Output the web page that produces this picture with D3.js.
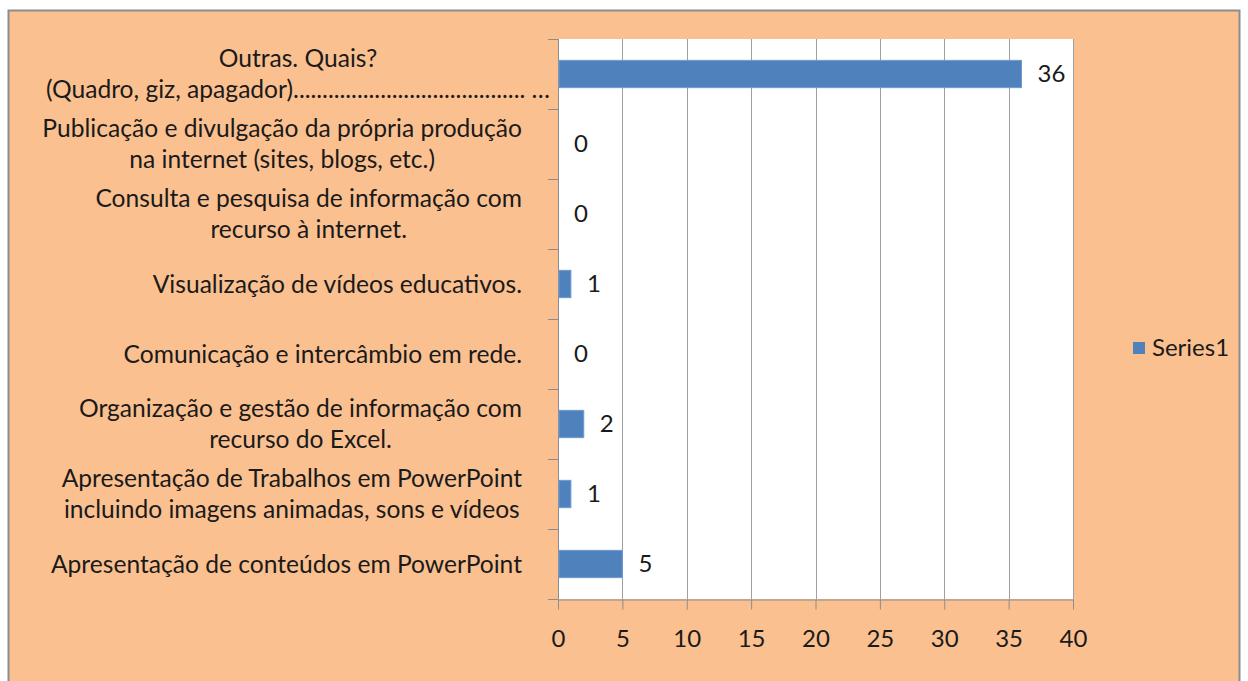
<!DOCTYPE html>
<html>
<head>
<meta charset="utf-8">
<script src="https://cdn.jsdelivr.net/npm/d3@7"></script>
<style>
  body { margin: 0; background: #fff; }
  text { font-family: Lato, "Open Sans", sans-serif; fill: #1a1a1a; }
</style>
</head>
<body>
<div id="chart"></div>
<script>
// categories, top first (as drawn in the picture)
const categories = [
  ["Outras. Quais?", "(Quadro, giz, apagador)........................................ …"],
  ["Publicação e divulgação da própria produção", "na internet (sites, blogs, etc.)"],
  ["Consulta e pesquisa de informação com", "recurso à internet."],
  ["Visualização de vídeos educativos."],
  ["Comunicação e intercâmbio em rede."],
  ["Organização e gestão de informação com", "recurso do Excel."],
  ["Apresentação de Trabalhos em PowerPoint", "incluindo imagens animadas, sons e vídeos"],
  ["Apresentação de conteúdos em PowerPoint"]
];
const series1 = [36, 0, 0, 1, 0, 2, 1, 5];
const xTicks = [0, 5, 10, 15, 20, 25, 30, 35, 40];
const seriesName = "Series1";

const width = 1248, height = 681;
const margin = { top: 39, right: 173, bottom: 82, left: 558 };
const fontSize = 24;
const labelFontSize = 24.6;

const svg = d3.select("#chart").append("svg")
  .attr("width", width).attr("height", height);

// outer chart frame
svg.append("rect")
  .attr("x", 8.5).attr("y", 10.5)
  .attr("width", 1231).attr("height", 680)
  .attr("fill", "#fac090").attr("stroke", "#8c8c8c").attr("stroke-width", 2);

const x = d3.scaleLinear().domain([0, 40]).range([margin.left, width - margin.right - 2]);
const y = d3.scaleBand().domain(d3.range(categories.length))
  .range([margin.top, height - margin.bottom]).paddingInner(0.61).paddingOuter(0.305);
const yb = d3.scaleBand().domain(d3.range(categories.length))
  .range([margin.top, height - margin.bottom]);

// plot area
svg.append("rect")
  .attr("x", x(0)).attr("y", margin.top)
  .attr("width", x(40) - x(0)).attr("height", height - margin.bottom - margin.top)
  .attr("fill", "#fff");

// vertical gridlines
svg.append("g").selectAll("line").data(xTicks.slice(1)).join("line")
  .attr("x1", d => Math.round(x(d)) + 0.5).attr("x2", d => Math.round(x(d)) + 0.5)
  .attr("y1", margin.top).attr("y2", height - margin.bottom)
  .attr("stroke", "#a0a0a0").attr("stroke-width", 1);

// x axis
const xAxis = svg.append("g")
  .attr("transform", `translate(0,${height - margin.bottom + 0.5})`)
  .call(d3.axisBottom(x).tickValues(xTicks).tickSize(10).tickSizeOuter(0).tickPadding(20));
xAxis.select(".domain").attr("stroke", "#8c8c8c");
xAxis.selectAll(".tick line").attr("stroke", "#8c8c8c");
xAxis.selectAll("text").attr("font-size", fontSize).attr("font-family", "Lato, sans-serif").attr("fill", "#1a1a1a");

// y axis line and category ticks
const yAxisG = svg.append("g");
yAxisG.append("line")
  .attr("x1", x(0) + 0.5).attr("x2", x(0) + 0.5)
  .attr("y1", margin.top).attr("y2", height - margin.bottom)
  .attr("stroke", "#8c8c8c");
yAxisG.selectAll(".cat-tick").data(d3.range(categories.length + 1)).join("line")
  .attr("class", "cat-tick")
  .attr("x1", x(0) - 10).attr("x2", x(0))
  .attr("y1", i => Math.round(margin.top + i * yb.step()) + 0.5)
  .attr("y2", i => Math.round(margin.top + i * yb.step()) + 0.5)
  .attr("stroke", "#8c8c8c");

// bars
svg.append("g").selectAll("rect").data(series1).join("rect")
  .attr("x", x(0) + 1).attr("y", (d, i) => y(i))
  .attr("width", d => Math.max(0, x(d) - x(0) - 1)).attr("height", y.bandwidth())
  .attr("fill", "#4f81bd").attr("stroke", "#6e9bd1").attr("stroke-width", d => d > 0 ? 1 : 0);

// value labels
svg.append("g").selectAll("text").data(series1).join("text")
  .attr("x", d => x(d) + 16)
  .attr("y", (d, i) => y(i) + y.bandwidth() / 2)
  .attr("dy", "0.35em")
  .attr("font-size", fontSize)
  .text(d => d);

// category labels: centred lines, block right-aligned
const lineH = 31;
const labelRight = 522;
const labels = svg.append("g").selectAll("g").data(categories).join("g");
labels.each(function (lines, i) {
  const g = d3.select(this);
  const cy = yb(i) + yb.bandwidth() / 2;
  const ts = g.selectAll("text").data(lines).join("text")
    .attr("font-size", labelFontSize)
    .attr("text-anchor", "middle")
    .attr("y", (d, j) => cy + (j - (lines.length - 1) / 2) * lineH)
    .attr("dy", "0.35em")
    .text(d => d);
  let maxW = 0;
  ts.each(function () { maxW = Math.max(maxW, this.getComputedTextLength()); });
  // very wide blocks spill past the axis gap, like the original
  const right = maxW > 490 ? labelRight + 28 : labelRight;
  ts.attr("x", right - maxW / 2);
});

// legend
const legend = svg.append("g").attr("transform", "translate(1133,342)");
legend.append("rect").attr("width", 12).attr("height", 12).attr("fill", "#4f81bd");
legend.append("text").attr("x", 19).attr("y", 6).attr("dy", "0.35em")
  .attr("font-size", fontSize).text(seriesName);
</script>
</body>
</html>
